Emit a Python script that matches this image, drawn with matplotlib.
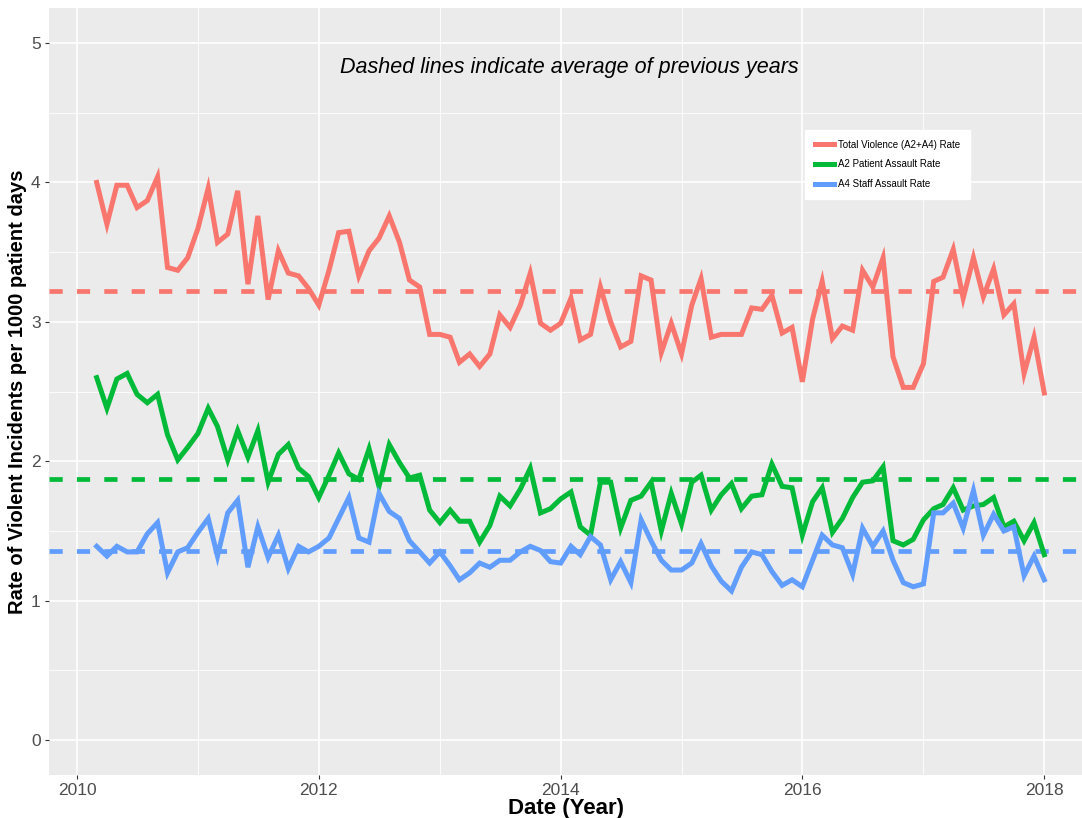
import matplotlib
matplotlib.use('Agg')
import matplotlib.pyplot as plt
import matplotlib.dates as mdates
import pandas as pd

plt.rcParams['font.family'] = ['Liberation Sans', 'DejaVu Sans']

# monthly rates, Mar 2010 - Jan 2018
dates = pd.date_range('2010-03-01', periods=95, freq='MS')

total_rate = [4.00, 3.70, 3.98, 3.98, 3.82, 3.87, 4.04, 3.39, 3.37, 3.46,
              3.67, 3.96, 3.57, 3.63, 3.94, 3.27, 3.76, 3.16, 3.51, 3.35,
              3.33, 3.24, 3.12, 3.37, 3.64, 3.65, 3.33, 3.51, 3.60, 3.76,
              3.57, 3.30, 3.25, 2.91, 2.91, 2.89, 2.71, 2.77, 2.68, 2.77,
              3.05, 2.96, 3.12, 3.35, 2.99, 2.94, 2.99, 3.17, 2.87, 2.91,
              3.25, 3.00, 2.82, 2.86, 3.33, 3.30, 2.78, 2.99, 2.77, 3.12,
              3.31, 2.89, 2.91, 2.91, 2.91, 3.10, 3.09, 3.19, 2.92, 2.96,
              2.57, 3.02, 3.29, 2.88, 2.97, 2.94, 3.37, 3.25, 3.46, 2.75,
              2.53, 2.53, 2.70, 3.29, 3.32, 3.52, 3.17, 3.46, 3.18, 3.38,
              3.05, 3.13, 2.63, 2.89, 2.49]

a2_rate = [2.60, 2.38, 2.59, 2.63, 2.48, 2.42, 2.48, 2.19, 2.01, 2.10,
           2.20, 2.38, 2.25, 2.01, 2.22, 2.03, 2.22, 1.85, 2.05, 2.12,
           1.95, 1.89, 1.74, 1.90, 2.06, 1.91, 1.87, 2.09, 1.82, 2.12,
           1.99, 1.88, 1.90, 1.65, 1.56, 1.65, 1.57, 1.57, 1.42, 1.54,
           1.75, 1.68, 1.80, 1.95, 1.63, 1.66, 1.73, 1.78, 1.53, 1.47,
           1.85, 1.85, 1.52, 1.72, 1.75, 1.85, 1.50, 1.77, 1.55, 1.85,
           1.90, 1.65, 1.76, 1.84, 1.66, 1.75, 1.76, 1.98, 1.82, 1.81,
           1.47, 1.71, 1.81, 1.49, 1.59, 1.74, 1.85, 1.86, 1.96, 1.43,
           1.40, 1.44, 1.58, 1.66, 1.69, 1.81, 1.65, 1.68, 1.69, 1.74,
           1.53, 1.57, 1.43, 1.56, 1.33]

a4_rate = [1.39, 1.32, 1.39, 1.35, 1.35, 1.48, 1.56, 1.20, 1.35, 1.38,
           1.49, 1.59, 1.32, 1.63, 1.72, 1.24, 1.53, 1.31, 1.47, 1.23,
           1.39, 1.35, 1.39, 1.45, 1.59, 1.74, 1.45, 1.42, 1.77, 1.64,
           1.59, 1.43, 1.35, 1.27, 1.35, 1.25, 1.15, 1.20, 1.27, 1.24,
           1.29, 1.29, 1.35, 1.39, 1.36, 1.28, 1.27, 1.39, 1.33, 1.46,
           1.40, 1.15, 1.28, 1.13, 1.58, 1.43, 1.29, 1.22, 1.22, 1.27,
           1.41, 1.25, 1.14, 1.07, 1.24, 1.35, 1.33, 1.21, 1.11, 1.15,
           1.10, 1.29, 1.47, 1.40, 1.38, 1.19, 1.52, 1.39, 1.50, 1.29,
           1.13, 1.10, 1.12, 1.63, 1.63, 1.70, 1.52, 1.79, 1.47, 1.62,
           1.50, 1.53, 1.18, 1.32, 1.15]

# averages of previous years (dashed)
avg_total = 3.22
avg_a2 = 1.87
avg_a4 = 1.36

labels = ['Total Violence (A2+A4) Rate', 'A2 Patient Assault Rate', 'A4 Staff Assault Rate']
colors = ['#F8766D', '#00BA38', '#619CFF']

fig = plt.figure(figsize=(10.82, 8.18), dpi=100)
ax = fig.add_axes([0.0453, 0.0526, 0.9547, 0.9374])
ax.set_facecolor('#EBEBEB')

series = [total_rate, a2_rate, a4_rate]
avgs = [avg_total, avg_a2, avg_a4]
for vals, avg, col, lab in zip(series, avgs, colors, labels):
    ax.plot(dates, vals, color=col, lw=3.6, label=lab, solid_joinstyle='miter', zorder=3)
    ax.axhline(avg, color=col, lw=3.4, dashes=(2.8, 3.0), zorder=2)

ax.set_ylim(-0.25, 5.25)
ax.set_xlim(pd.Timestamp('2009-10-08'), pd.Timestamp('2018-04-25'))
ax.set_yticks([0, 1, 2, 3, 4, 5])
ax.set_yticks([0.5, 1.5, 2.5, 3.5, 4.5], minor=True)
ax.xaxis.set_major_locator(mdates.YearLocator(2))
ax.xaxis.set_minor_locator(mdates.YearLocator(1))
ax.xaxis.set_major_formatter(mdates.DateFormatter('%Y'))

ax.grid(which='major', color='white', lw=1.2)
ax.grid(which='minor', color='white', lw=0.6)
ax.set_axisbelow(True)
for s in ax.spines.values():
    s.set_visible(False)
ax.tick_params(which='major', length=3, width=0.8, color='#333333', labelcolor='#4D4D4D',
               labelsize=12.5, pad=3)
ax.tick_params(which='minor', length=0)

ax.set_xlabel('Date (Year)', fontsize=16, fontweight='bold', labelpad=0)
ax.set_ylabel('Rate of Violent Incidents per 1000 patient days', fontsize=14.5,
              fontweight='bold', labelpad=3)

ax.text(0.504, 0.922, 'Dashed lines indicate average of previous years', transform=ax.transAxes,
        ha='center', va='center', fontsize=15.5, style='italic')

leg = ax.legend(loc='upper left', bbox_to_anchor=(0.7275, 0.8475), fontsize=7, frameon=True,
                fancybox=False, edgecolor='white', framealpha=1, handlelength=1.9,
                borderpad=1.0, labelspacing=1.0, handletextpad=0.5)

fig.savefig('out.png', dpi=100)
